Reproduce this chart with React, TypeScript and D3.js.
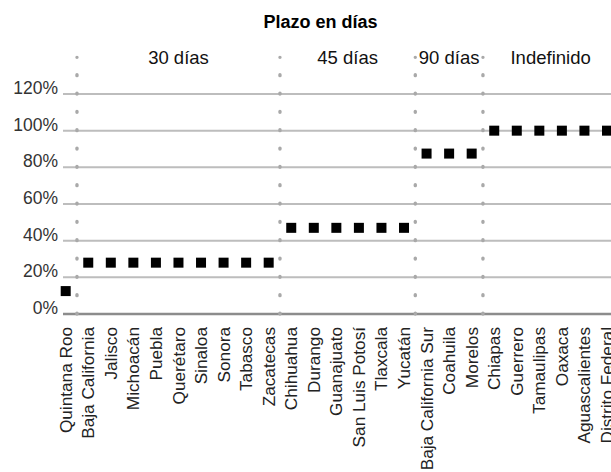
import React from "react";
import * as d3 from "d3";

const categories = [
  "Quintana Roo", "Baja California", "Jalisco", "Michoacán", "Puebla", "Querétaro",
  "Sinaloa", "Sonora", "Tabasco", "Zacatecas", "Chihuahua", "Durango", "Guanajuato",
  "San Luis Potosí", "Tlaxcala", "Yucatán", "Baja California Sur", "Coahuila", "Morelos",
  "Chiapas", "Guerrero", "Tamaulipas", "Oaxaca", "Aguascalientes", "Distrito Federal",
];
const values = [
  12.5, 28, 28, 28, 28, 28, 28, 28, 28, 28,
  47, 47, 47, 47, 47, 47,
  87.5, 87.5, 87.5,
  100, 100, 100, 100, 100, 100,
];
const yTicks = [0, 20, 40, 60, 80, 100, 120];
const groupLabels = ["30 días", "45 días", "90 días", "Indefinido"];
const groupFirst = ["Baja California", "Chihuahua", "Baja California Sur", "Chiapas"];
const groupLast = ["Zacatecas", "Yucatán", "Morelos", "Distrito Federal"];
const title = "Plazo en días";

const W = 611;
const H = 472;
const FONT = "'Liberation Sans', Arial, Helvetica, sans-serif";

export default function App() {
  const x = d3.scalePoint<string>().domain(categories).range([65.7, 607]);
  const step = x.step();
  const y = d3.scaleLinear().domain([0, 120]).range([314, 94]);
  const gridX0 = 63;
  const period = y(0) - y(10);
  const sepTop = y(140);

  const seps = groupFirst.map((c) => (x(c) as number) - step / 2);
  const groupCenters = groupFirst.map(
    (c, i) => ((x(c) as number) - step / 2 + (x(groupLast[i]) as number) + step / 2) / 2
  );
  const marker = 10;

  return (
    <svg
      width={W}
      height={H}
      style={{ position: "absolute", left: 0, top: 0, background: "#fff" }}
      fontFamily={FONT}
    >
      <text x={320.5} y={28} textAnchor="middle" fontSize={18} fontWeight="bold" fill="#000">
        {title}
      </text>
      {groupLabels.map((g, i) => (
        <text key={g} x={groupCenters[i]} y={64} textAnchor="middle" fontSize={18.5} fill="#111">
          {g}
        </text>
      ))}
      {yTicks.map((t) => (
        <g key={t}>
          <line
            x1={gridX0}
            x2={W}
            y1={y(t)}
            y2={y(t)}
            stroke={t === 0 ? "#8c8c8c" : "#bdbdbd"}
            strokeWidth={t === 0 ? 2.5 : 2}
          />
          <text x={58} y={y(t)} textAnchor="end" fontSize={17.5} fill="#333">
            {d3.format("d")(t)}%
          </text>
        </g>
      ))}
      {seps.map((sx, i) => (
        <path
          key={i}
          d={`M${sx},${y(0)}L${sx},${sepTop}`}
          stroke="#a9a9a9"
          strokeWidth={3.4}
          strokeLinecap="round"
          strokeDasharray={`0.9 ${period - 0.9}`}
          fill="none"
        />
      ))}
      {categories.map((c, i) => (
        <rect
          key={c}
          x={(x(c) as number) - marker / 2}
          y={y(values[i]) - marker / 2}
          width={marker}
          height={marker}
          fill="#000"
        />
      ))}
      {categories.map((c) => (
        <text
          key={c}
          transform={`translate(${x(c)},${y(0) + 13}) rotate(-90)`}
          textAnchor="end"
          dy="0.35em"
          fontSize={17.2}
          fill="#222"
        >
          {c}
        </text>
      ))}
    </svg>
  );
}
